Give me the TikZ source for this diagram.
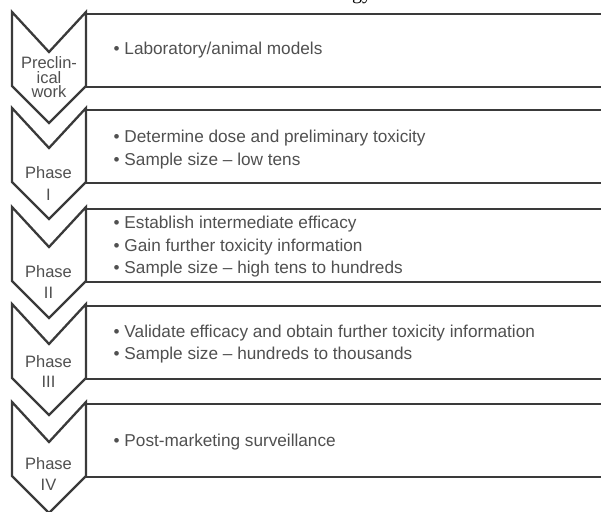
\documentclass[tikz,border=0pt]{standalone}
\usepackage{fontspec}
\setmainfont{Liberation Sans}
\newfontfamily\serifx{Liberation Serif}
\definecolor{linec}{HTML}{3A3A3A}
\definecolor{textc}{HTML}{505050}
\tikzset{
  boxline/.style={draw=linec, line width=2.3pt, line join=miter},
  chev/.style={draw=linec, fill=white, line width=2.3pt, line join=miter},
  itemtxt/.style={anchor=base west, inner sep=0pt, text=textc, font=\fontsize{17.2}{20}\selectfont},
  labtxt/.style={anchor=base, inner sep=0pt, text=textc, font=\fontsize{16.5}{20}\selectfont},
}
\newcommand{\phaserow}[3]{% #1 name, #2 top, #3 bottom
  \draw[boxline] (606,#2) -- (86,#2) -- (86,#3) -- (606,#3);
  \draw[chev] (12,#2-2) -- (49,#2+38) -- (86,#2-2) -- (86,#3-1) -- (49,#3+36) -- (12,#3-1) -- cycle;
}
\begin{document}
\begin{tikzpicture}[x=1pt,y=-1pt]
\useasboundingbox (0,0) rectangle (601,511);
\fill[white] (0,0) rectangle (601,511);

% cut-off title above
\node[anchor=base west, inner sep=0pt, font=\serifx\fontsize{20}{24}\selectfont] (ttl) at (352,0) {gy};

\phaserow{p0}{14}{87}
\phaserow{p1}{110}{183}
\phaserow{p2}{209}{282}
\phaserow{p3}{306}{379}
\phaserow{p4}{404}{477}

% left labels
\node[labtxt] (l0a) at (49,68) {Preclin-};
\node[labtxt] (l0b) at (49,83) {ical};
\node[labtxt] (l0c) at (49,97.5) {work};
\node[labtxt] (l1a) at (48.5,178) {Phase};
\node[labtxt] (l1b) at (48.5,200) {I};
\node[labtxt] (l2a) at (48.5,277) {Phase};
\node[labtxt] (l2b) at (48.5,298) {II};
\node[labtxt] (l3a) at (48.5,367) {Phase};
\node[labtxt] (l3b) at (48.5,387.5) {III};
\node[labtxt] (l4a) at (48.5,469) {Phase};
\node[labtxt] (l4b) at (48.5,490) {IV};

% box texts
\node[itemtxt] (t0a) at (113.5,55) {• Laboratory/animal models};
\node[itemtxt] (t1a) at (113.5,142) {• Determine dose and preliminary toxicity};
\node[itemtxt] (t1b) at (113.5,165) {• Sample size – low tens};
\node[itemtxt] (t2a) at (113.5,228) {• Establish intermediate efficacy};
\node[itemtxt] (t2b) at (113.5,251) {• Gain further toxicity information};
\node[itemtxt] (t2c) at (113.5,273.5) {• Sample size – high tens to hundreds};
\node[itemtxt] (t3a) at (113.5,337) {• Validate efficacy and obtain further toxicity information};
\node[itemtxt] (t3b) at (113.5,359) {• Sample size – hundreds to thousands};
\node[itemtxt] (t4a) at (113.5,446) {• Post-marketing surveillance};
\end{tikzpicture}
\end{document}
